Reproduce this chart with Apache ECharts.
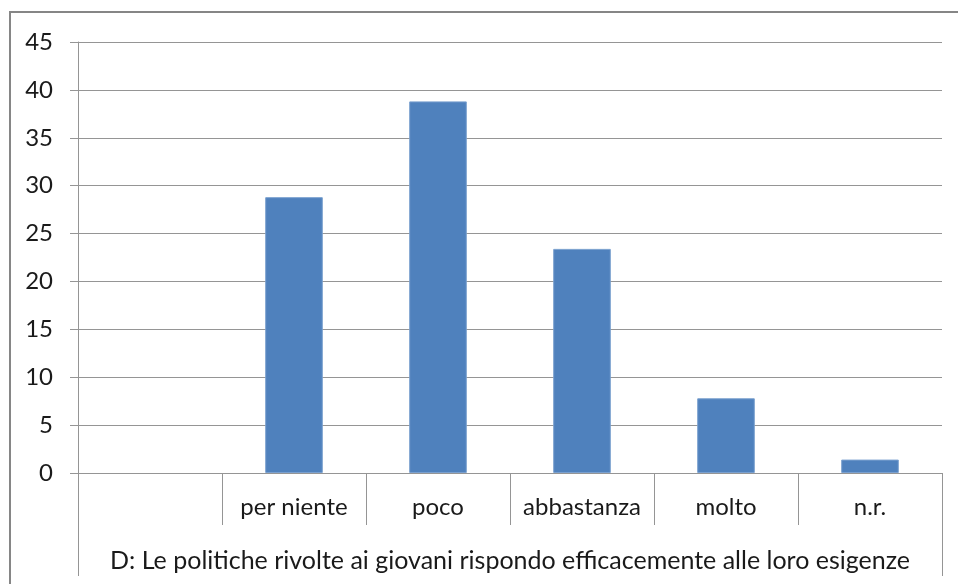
<!DOCTYPE html>
<html>
<head>
<meta charset="utf-8">
<script src="https://cdn.jsdelivr.net/npm/echarts@6/dist/echarts.min.js"></script>
<style>
  html, body { margin: 0; padding: 0; background: #fff; }
  #chart { width: 958px; height: 584px; }
</style>
</head>
<body>
<div id="chart"></div>
<script>
var categories = ["", "per niente", "poco", "abbastanza", "molto", "n.r."];
var values = [null, 28.8, 38.8, 23.4, 7.8, 1.4];
var groupLabel = ["D: Le politiche rivolte ai giovani rispondo efficacemente alle loro esigenze"];

var lineGrey = "#959595";
var textColor = "#1a1a1a";
var font = "Lato";
var fontSize = 24;

var chart = echarts.init(document.getElementById("chart"));

var option = {
  animation: false,
  backgroundColor: "#fff",
  graphic: [
    {
      type: "rect",
      shape: { x: 10, y: 12, width: 970, height: 600 },
      style: { fill: "none", stroke: "#868686", lineWidth: 2 },
      silent: true
    }
  ],
  grid: { left: 78, right: 16, top: 42, bottom: 111 },
  xAxis: [
    {
      type: "category",
      data: categories,
      axisLine: { show: true, lineStyle: { color: lineGrey, width: 1 } },
      axisTick: { show: true, interval: 0, length: 52, lineStyle: { color: lineGrey } },
      axisLabel: { interval: 0, margin: 22, fontSize: fontSize, color: textColor, fontFamily: font }
    },
    {
      type: "category",
      position: "bottom",
      data: groupLabel,
      axisLine: { show: false },
      axisTick: { show: true, length: 103, lineStyle: { color: lineGrey } },
      axisLabel: { margin: 75, fontSize: 25, color: textColor, fontFamily: font }
    }
  ],
  yAxis: {
    type: "value",
    min: 0,
    max: 45,
    interval: 5,
    axisLine: { show: true, lineStyle: { color: lineGrey } },
    axisTick: { show: true, length: 8, lineStyle: { color: lineGrey } },
    axisLabel: { margin: 25, fontSize: fontSize, color: textColor, fontFamily: font },
    splitLine: { show: true, lineStyle: { color: lineGrey, width: 1 } }
  },
  series: [
    {
      type: "bar",
      xAxisIndex: 0,
      data: values,
      barWidth: "40%",
      itemStyle: { color: "#4f81bd", borderColor: "#7aa0cf", borderWidth: 1 }
    }
  ]
};

chart.setOption(option);
</script>
</body>
</html>
